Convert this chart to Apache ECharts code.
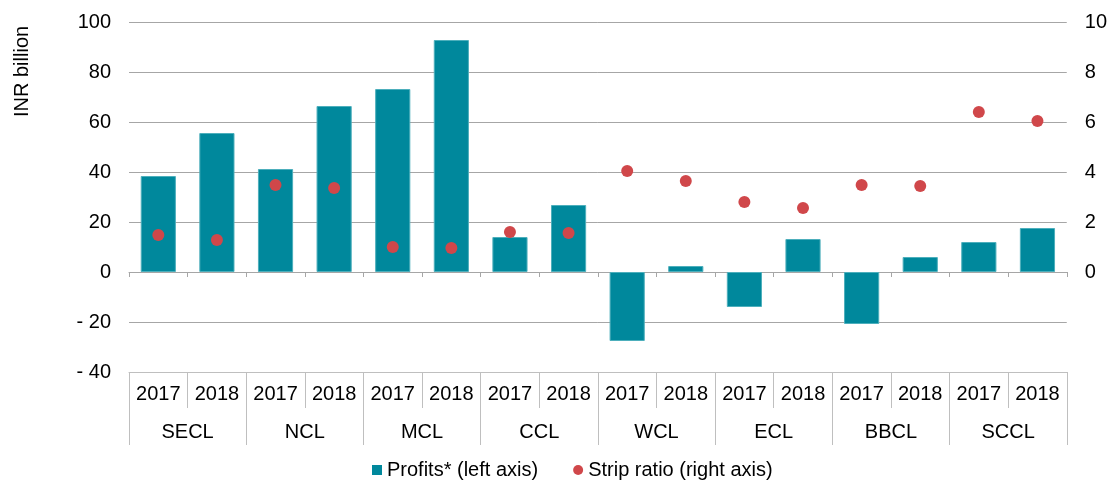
<!DOCTYPE html>
<html>
<head>
<meta charset="utf-8">
<script src="https://cdn.jsdelivr.net/npm/echarts@6/dist/echarts.min.js"></script>
<style>
  html, body { margin: 0; padding: 0; background: #fff; }
  #chart { width: 1110px; height: 480px; }
</style>
</head>
<body>
<div id="chart"></div>
<script>
// company groups, two years each
var groups = ['SECL', 'NCL', 'MCL', 'CCL', 'WCL', 'ECL', 'BBCL', 'SCCL']
var years = ['2017', '2018']
var yearLabels = []
groups.forEach(function () { yearLabels.push(years[0], years[1]) })

// profits, INR billion (left axis)
var profits = [38.4, 55.6, 41.2, 66.4, 73.2, 92.8, 14.0, 26.8, -27.6, 2.4, -14.0, 13.2, -20.8, 6.0, 12.0, 17.6]
// strip ratio (right axis)
var stripRatio = [1.48, 1.28, 3.48, 3.36, 1.0, 0.96, 1.6, 1.56, 4.04, 3.64, 2.8, 2.56, 3.48, 3.44, 6.4, 6.04]

var font = 'Arial, "Liberation Sans", sans-serif'
var gridColor = '#A6A6A6'
var boxColor = '#BFBFBF'

var chart = echarts.init(document.getElementById('chart'))
chart.setOption({
  animation: false,
  textStyle: { fontFamily: font },
  grid: { left: 129, right: 43, top: 22, bottom: 108 },
  graphic: [{
    type: 'text',
    x: 12,
    y: 117,
    rotation: Math.PI / 2,
    style: { text: 'INR billion', fontSize: 20, fontFamily: font, fill: '#000' }
  }],
  legend: {
    left: 367,
    top: 455,
    itemWidth: 10,
    itemHeight: 10,
    itemGap: 35,
    itemStyle: { borderWidth: 0 },
    textStyle: { fontSize: 20, color: '#000', fontFamily: font },
    data: [
      { name: 'Profits* (left axis)', icon: 'rect' },
      { name: 'Strip ratio (right axis)', icon: 'circle' }
    ]
  },
  xAxis: [
    {
      // zero line with small ticks
      type: 'category',
      data: yearLabels,
      position: 'bottom',
      axisLine: { onZero: true, lineStyle: { color: gridColor, width: 1 } },
      axisTick: { show: true, interval: 0, length: 5, lineStyle: { color: gridColor } },
      axisLabel: { show: false }
    },
    {
      // year row of the label box
      type: 'category',
      data: yearLabels,
      position: 'bottom',
      axisLine: { onZero: false, lineStyle: { color: boxColor } },
      axisTick: { show: true, interval: 0, length: 36, lineStyle: { color: boxColor } },
      axisLabel: { interval: 0, fontSize: 20, color: '#000', margin: 12 }
    },
    {
      // company row of the label box
      type: 'category',
      data: groups,
      position: 'bottom',
      offset: 36,
      axisLine: { show: false, onZero: false },
      axisTick: { show: true, interval: 0, length: 37, lineStyle: { color: boxColor } },
      axisLabel: { interval: 0, fontSize: 20, color: '#000', margin: 14 }
    }
  ],
  yAxis: [
    {
      type: 'value',
      min: -40,
      max: 100,
      interval: 20,
      axisLine: { show: false },
      axisTick: { show: false },
      splitLine: { lineStyle: { color: gridColor } },
      axisLabel: {
        fontSize: 20,
        color: '#000',
        margin: 18,
        formatter: function (v) { return v < 0 ? '- ' + (-v) : String(v) }
      }
    },
    {
      type: 'value',
      min: -4,
      max: 10,
      interval: 2,
      axisLine: { show: false },
      axisTick: { show: false },
      splitLine: { show: false },
      axisLabel: {
        fontSize: 20,
        color: '#000',
        margin: 18,
        formatter: function (v) { return v < 0 ? '' : String(v) }
      }
    }
  ],
  series: [
    {
      name: 'Profits* (left axis)',
      type: 'bar',
      xAxisIndex: 0,
      yAxisIndex: 0,
      barWidth: '60%',
      itemStyle: { color: '#00889C', borderColor: '#4DAFBC', borderWidth: 1 },
      data: profits
    },
    {
      name: 'Strip ratio (right axis)',
      type: 'scatter',
      xAxisIndex: 0,
      yAxisIndex: 1,
      symbol: 'circle',
      symbolSize: 12,
      itemStyle: { color: '#D0474A', opacity: 1 },
      z: 3,
      data: stripRatio
    }
  ]
})
</script>
</body>
</html>
